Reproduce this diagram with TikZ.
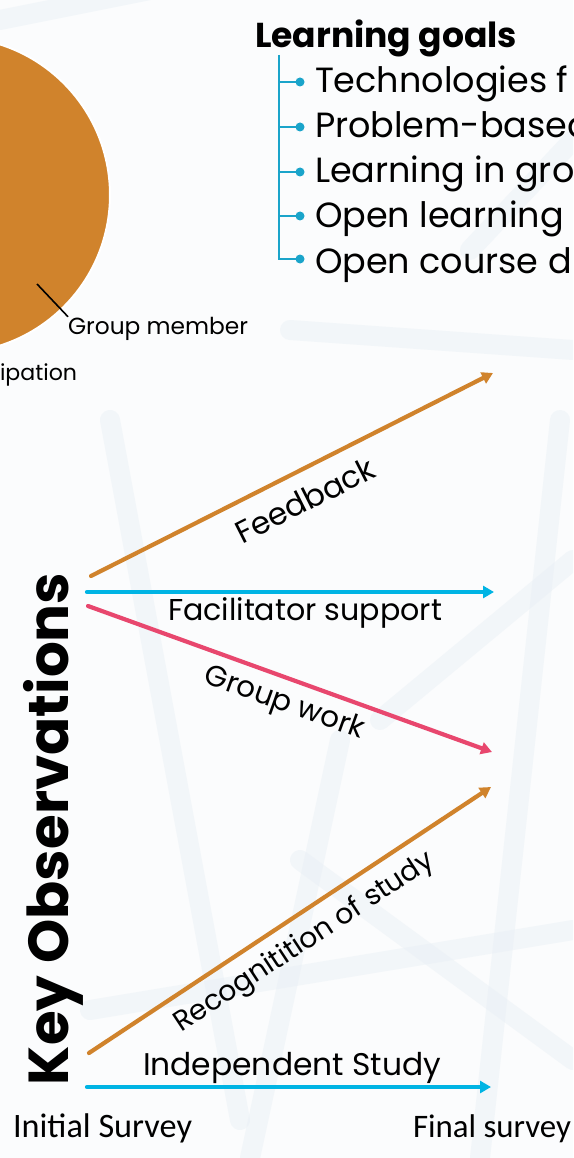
\documentclass[tikz,border=0pt]{standalone}
\usepackage{fontspec}
\usepackage{graphicx}
\setmainfont{Poppins}
\newfontfamily\calib{Carlito}
\usetikzlibrary{arrows.meta}

\definecolor{ochre}{RGB}{208,131,44}
\definecolor{skyblue}{RGB}{0,180,228}
\definecolor{rose}{RGB}{232,71,110}
\definecolor{treeblue}{RGB}{26,164,202}
\definecolor{haze}{RGB}{232,239,245}
\definecolor{paper}{RGB}{251,252,253}

% scale a piece of text to a given width
\newcommand{\fitto}[2]{\resizebox{#1}{!}{#2}}

\begin{document}
\begin{tikzpicture}[x=1pt,y=-1pt,
  trend/.style={line width=4.2pt,line cap=round,-{Triangle[length=11pt,width=12pt]}},
  txt/.style={inner sep=0pt,outer sep=0pt},
  item/.style={txt,anchor=base west,font=\fontsize{35}{35}\selectfont},
  dot/.style={circle,fill=treeblue,inner sep=0pt,minimum size=9pt},
  tree/.style={treeblue,line width=1.8pt},
  streak/.style={haze,line width=20pt,line cap=round,opacity=0.45}
]
\useasboundingbox (0,0) rectangle (573,1158);
\fill[paper] (0,0) rectangle (573,1158);

% soft background streaks
\begin{scope}
\clip (0,0) rectangle (573,1158);
\draw[streak] (0,20) -- (150,-10);
\draw[streak] (290,330) -- (573,350);
\draw[streak] (470,250) -- (573,140);
\draw[streak] (380,720) -- (573,560);
\draw[streak] (560,420) -- (480,1158);
\draw[streak] (300,860) -- (573,1060);
\draw[streak] (250,1158) -- (340,740);
\draw[streak] (110,420) -- (240,1120);
\draw[streak] (90,1010) -- (573,930);
\end{scope}

% pie chart fragment
\fill[ochre,draw=white,line width=2pt] (-48,195) circle (158pt);
\coordinate (gmIn) at (37,284);
\node[txt,anchor=base west] (gm) at (68,334) {\fitto{180pt}{Group member}};
\draw[black,line width=1.6pt] (gmIn) -- (gm.north west);
\node[txt,anchor=base west] (part) at (0,380) {\fitto{77pt}{ipation}};

% learning goals list
\node[txt,anchor=base west] (lg) at (255,48) {\fitto{262pt}{\bfseries Learning goals}};
\coordinate (top) at (279,55);
\node[dot] (d1) at (300,82) {};
\node[dot] (d2) at (300,127) {};
\node[dot] (d3) at (300,172) {};
\node[dot] (d4) at (300,216) {};
\node[dot] (d5) at (300,259) {};
\draw[tree] (top) |- (d5.center);
\foreach \d in {d1,d2,d3,d4} \draw[tree] (top |- \d) -- (\d.center);
\node[item] (g1) at (315,93) {Technologies f};
\node[item] (g2) at (315,138) {Problem-based};
\node[item] (g3) at (315,183) {Learning in gro};
\node[item] (g4) at (315,228) {Open learning};
\node[item] (g5) at (315,273) {Open course d};

% survey trends
\coordinate (fbS) at (91,576);   \coordinate (fbE) at (493,373);
\coordinate (fsS) at (87,592);   \coordinate (fsE) at (494,592);
\coordinate (gwS) at (88,606);   \coordinate (gwE) at (492,752);
\coordinate (rsS) at (89,1053);  \coordinate (rsE) at (491,787);
\coordinate (isS) at (87,1087);  \coordinate (isE) at (491,1087);

\draw[trend,ochre]   (fbS) -- (fbE);
\draw[trend,skyblue] (fsS) -- (fsE);
\draw[trend,rose]    (gwS) -- (gwE);
\draw[trend,ochre]   (rsS) -- (rsE);
\draw[trend,skyblue] (isS) -- (isE);

\node[txt,rotate=26.8] (fb) at (305,500) {\fitto{152pt}{Feedback}};
\node[txt,anchor=base west] (fs) at (168,620) {\fitto{274pt}{Facilitator support}};
\node[txt,rotate=-19.7] (gw) at (284,704) {\fitto{168pt}{Group work}};
\node[txt,rotate=33.4] (rs) at (305,943) {\fitto{305pt}{Recognitition of study}};
\node[txt,anchor=base west] (is) at (143,1075) {\fitto{298pt}{Independent Study}};

% axis titles
\node[txt,rotate=90,anchor=base west] (ko) at (68,1085) {\fitto{512pt}{\bfseries Key Observations}};
\node[txt,anchor=base west] (init) at (13,1137) {\fitto{179pt}{\calib Initial Survey}};
\node[txt,anchor=base west] (fin) at (413,1137) {\fitto{158pt}{\calib Final survey}};
\end{tikzpicture}
\end{document}
